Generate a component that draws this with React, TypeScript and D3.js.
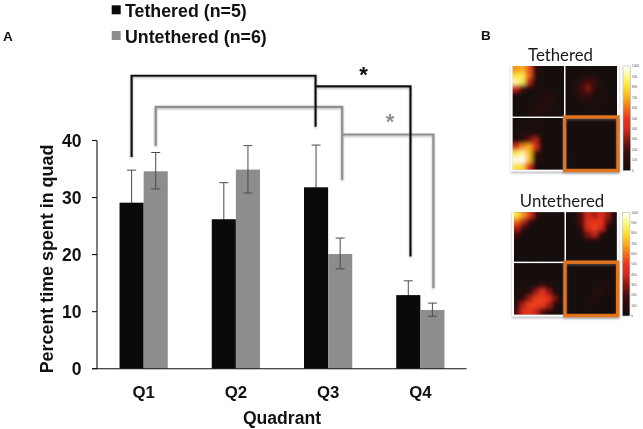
import * as d3 from 'd3'
import React from 'react'

const quadrants = ['Q1', 'Q2', 'Q3', 'Q4']
const groups = ['Tethered (n=5)', 'Untethered (n=6)']
const yTicks = [0, 10, 20, 30, 40]

const tetheredMean = [29.1, 26.2, 31.8, 12.9]
const tetheredHigh = [34.8, 32.6, 39.2, 15.4]
const tetheredLow = [23.4, 19.8, 24.4, 10.4]
const untetheredMean = [34.6, 34.9, 20.1, 10.3]
const untetheredHigh = [37.9, 39.1, 22.9, 11.5]
const untetheredLow = [31.5, 30.8, 17.5, 9.2]

// significance brackets, read in axis units: [left quadrant, right quadrant, level, end of left leg, end of right leg]
const blackUpperBracket = ['Q1', 'Q3', 51.35, 37.1, 42.4]
const blackLowerBracket = ['Q3', 'Q4', 49.5, 49.5, 19.65]
const grayUpperBracket = ['Q1', 'Q3', 45.9, 39.1, 33.1]
const grayLowerBracket = ['Q3', 'Q4', 41.05, 41.05, 14.15]

// heatmap panels, 8 x 8 cells
const tetheredTL = [
  [660, 700, 560, 140, 60, 40, 40, 30],
  [800, 840, 580, 110, 50, 40, 40, 30],
  [920, 840, 360, 70, 50, 40, 40, 30],
  [400, 210, 70, 50, 50, 50, 40, 40],
  [70, 50, 40, 40, 60, 70, 60, 40],
  [40, 30, 40, 60, 90, 100, 70, 40],
  [30, 30, 50, 80, 100, 90, 60, 30],
  [30, 40, 60, 80, 80, 60, 40, 30]
]
const tetheredTR = [
  [30, 30, 40, 40, 40, 30, 30, 30],
  [30, 30, 50, 70, 60, 40, 30, 30],
  [30, 50, 110, 200, 160, 50, 30, 30],
  [30, 60, 190, 280, 130, 50, 40, 30],
  [30, 50, 170, 190, 70, 50, 50, 30],
  [30, 40, 70, 80, 60, 60, 50, 30],
  [30, 30, 40, 50, 50, 60, 40, 30],
  [30, 30, 30, 40, 40, 40, 30, 30]
]
const tetheredBL = [
  [40, 40, 50, 60, 50, 40, 30, 30],
  [50, 50, 60, 60, 50, 40, 30, 30],
  [60, 70, 80, 90, 50, 40, 30, 30],
  [70, 110, 240, 370, 70, 40, 30, 30],
  [420, 640, 700, 470, 70, 40, 30, 30],
  [820, 920, 740, 190, 50, 40, 30, 30],
  [970, 1000, 740, 130, 50, 30, 30, 30],
  [820, 780, 450, 90, 40, 30, 30, 30]
]
const tetheredBR = [
  [30, 30, 30, 30, 30, 30, 30, 30],
  [30, 30, 30, 30, 30, 30, 30, 30],
  [30, 30, 30, 30, 40, 40, 30, 30],
  [30, 30, 30, 30, 40, 40, 30, 30],
  [30, 30, 30, 30, 40, 40, 30, 30],
  [30, 30, 30, 30, 30, 30, 30, 30],
  [40, 50, 40, 30, 30, 30, 30, 30],
  [30, 40, 30, 30, 30, 30, 30, 30]
]
const untetheredTL = [
  [820, 660, 460, 190, 40, 30, 30, 30],
  [580, 360, 120, 40, 30, 30, 30, 30],
  [350, 120, 40, 30, 30, 30, 30, 30],
  [180, 50, 30, 30, 30, 30, 30, 30],
  [80, 30, 30, 30, 30, 30, 30, 30],
  [40, 30, 30, 30, 30, 30, 30, 30],
  [30, 30, 30, 30, 30, 30, 30, 30],
  [30, 30, 30, 30, 30, 30, 30, 30]
]
const untetheredTR = [
  [30, 50, 230, 440, 330, 440, 330, 60],
  [30, 50, 230, 480, 500, 500, 240, 50],
  [30, 40, 120, 440, 520, 420, 90, 40],
  [30, 30, 60, 290, 380, 120, 40, 30],
  [30, 30, 40, 70, 80, 50, 30, 30],
  [30, 30, 30, 40, 40, 30, 30, 30],
  [30, 30, 30, 30, 40, 30, 30, 30],
  [30, 30, 30, 30, 30, 30, 30, 30]
]
const untetheredBL = [
  [30, 30, 30, 30, 30, 30, 30, 30],
  [30, 30, 30, 30, 30, 30, 30, 30],
  [40, 40, 40, 30, 30, 30, 30, 30],
  [50, 50, 60, 80, 170, 80, 40, 30],
  [60, 70, 100, 300, 510, 290, 60, 30],
  [80, 110, 330, 520, 520, 500, 250, 50],
  [120, 360, 520, 520, 510, 340, 80, 40],
  [220, 430, 480, 380, 220, 90, 50, 30]
]
const untetheredBR = [
  [30, 30, 30, 30, 30, 30, 30, 30],
  [30, 30, 30, 30, 30, 30, 30, 30],
  [30, 30, 30, 30, 30, 40, 50, 40],
  [30, 30, 30, 30, 40, 70, 60, 40],
  [30, 30, 30, 40, 70, 90, 50, 30],
  [30, 30, 40, 60, 80, 60, 40, 30],
  [30, 30, 40, 50, 50, 40, 30, 30],
  [30, 30, 30, 30, 30, 30, 30, 30]
]

const heatStops = [0, 100, 200, 300, 400, 500, 600, 700, 800, 900, 1000]
const heatColors = ['#110c0c', '#260c0c', '#430e0e', '#8a1812', '#d42a1c', '#ea331e', '#f4701a', '#fbae1e', '#fde231', '#fff98c', '#ffffff']
const barTicks = [1000, 900, 800, 700, 600, 500, 400, 300, 200, 100, 0]

const y = d3.scaleLinear().domain([0, 40]).range([368.7, 140.5])
const x = d3.scaleBand().domain(quadrants).range([97.5, 466.5]).paddingInner(0.477).paddingOuter(0.239)
const heat = d3.scaleLinear<string>().domain(heatStops).range(heatColors).clamp(true)

const barWidth = x.bandwidth() / 2
const blackX = (q: string) => x(q)! + barWidth / 2
const grayX = (q: string) => x(q)! + (barWidth * 3) / 2
const capHalf = 4.5
const sans = '"Liberation Sans", Arial, sans-serif'

const Panel = ({ cells, x0, y0, w, h, id }: any) => {
  const size = cells.length
  const cx = d3.scaleLinear().domain([0, size]).range([x0, x0 + w])
  const cy = d3.scaleLinear().domain([0, size]).range([y0, y0 + h])
  const bleed = 8
  return (
    <g clipPath={`url(#${id})`}>
      <clipPath id={id}>
        <rect x={x0} y={y0} width={w} height={h} />
      </clipPath>
      <rect x={x0} y={y0} width={w} height={h} fill={heat(30)} />
      <g filter='url(#heatBlur)'>
        {cells.map((row: number[], r: number) =>
          row.map((v, c) => {
            // edge cells run past the clip so the blur does not fade at the border
            const left = cx(c) - (c === 0 ? bleed : 0)
            const right = cx(c + 1) + (c === size - 1 ? bleed : 0)
            const top = cy(r) - (r === 0 ? bleed : 0)
            const bottom = cy(r + 1) + (r === size - 1 ? bleed : 0)
            return <rect key={`${r}-${c}`} x={left} y={top} width={right - left + 0.4} height={bottom - top + 0.4} fill={heat(v)} />
          })
        )}
      </g>
    </g>
  )
}

const HeatFigure = ({ title, titleX, titleY, panels, left, mid, right, top, middle, bottom, barX, barTop, barBottom, id }: any) => {
  const barY = d3.scaleLinear().domain([0, 1000]).range([barBottom, barTop])
  return (
    <g>
      <text x={titleX} y={titleY} textAnchor='middle' fontFamily='Lato, "Open Sans", sans-serif' fontSize={16.8} fill='#1a1a1a'>
        {title}
      </text>
      <rect x={left - 2} y={top - 2} width={right - left + 4} height={bottom - top + 4} fill='#fff' filter='url(#softShadow)' />
      <Panel id={`${id}a`} cells={panels[0]} x0={left} y0={top} w={mid - left - 0.8} h={middle - top - 0.8} />
      <Panel id={`${id}b`} cells={panels[1]} x0={mid + 0.8} y0={top} w={right - mid - 0.8} h={middle - top - 0.8} />
      <Panel id={`${id}c`} cells={panels[2]} x0={left} y0={middle + 0.8} w={mid - left - 0.8} h={bottom - middle - 0.8} />
      <Panel id={`${id}d`} cells={panels[3]} x0={mid + 0.8} y0={middle + 0.8} w={right - mid - 0.8} h={bottom - middle - 0.8} />
      <rect x={mid - 0.2} y={middle - 0.2} width={right - mid + 1.2} height={bottom - middle + 1.2} fill='none' stroke='#e2741a' strokeWidth={3.4} filter='url(#softShadow)' />
      <rect x={barX} y={barTop} width={7.6} height={barBottom - barTop} fill='url(#heatBar)' stroke='#bbb' strokeWidth={0.6} />
      {barTicks.map((t) => (
        <text key={t} x={barX + 9} y={barY(t) + 1.2} fontFamily={sans} fontSize={3.2} fill='#555'>
          {t}
        </text>
      ))}
    </g>
  )
}

const bracketPath = (b: any[], offset: (q: string) => number, nudgeLeft = 0, nudgeRight = 0) =>
  d3.line()([
    [offset(b[0]) + nudgeLeft, y(b[3])],
    [offset(b[0]) + nudgeLeft, y(b[2])],
    [offset(b[1]) + nudgeRight, y(b[2])],
    [offset(b[1]) + nudgeRight, y(b[4])]
  ] as [number, number][])!

const ErrorBars = ({ pos, high, low }: any) => (
  <g stroke='#4a4a4a' strokeWidth={1} fill='none'>
    {quadrants.map((q, i) => (
      <g key={q}>
        <line x1={pos(q)} x2={pos(q)} y1={y(high[i])} y2={y(low[i])} />
        <line x1={pos(q) - capHalf} x2={pos(q) + capHalf} y1={y(high[i])} y2={y(high[i])} />
        <line x1={pos(q) - capHalf} x2={pos(q) + capHalf} y1={y(low[i])} y2={y(low[i])} />
      </g>
    ))}
  </g>
)

const App = () => {
  return (
    <svg width={643} height={429} style={{ position: 'absolute', left: 0, top: 0, background: '#fff' }}>
      <defs>
        <filter id='heatBlur' x='-20%' y='-20%' width='140%' height='140%'>
          <feGaussianBlur stdDeviation={2.3} />
        </filter>
        <filter id='softShadow' x='-10%' y='-10%' width='120%' height='125%'>
          <feDropShadow dx={0} dy={1.5} stdDeviation={1} floodColor='#777' floodOpacity={0.55} />
        </filter>
        <filter id='lineShadow' x='-5%' y='-5%' width='110%' height='110%'>
          <feDropShadow dx={0} dy={1.2} stdDeviation={0.8} floodColor='#666' floodOpacity={0.5} />
        </filter>
        <linearGradient id='heatBar' x1='0' y1='1' x2='0' y2='0'>
          {heatStops.map((s, i) => (
            <stop key={s} offset={s / 1000} stopColor={heatColors[i]} />
          ))}
        </linearGradient>
      </defs>

      <g style={{ filter: 'blur(0.3px)' }}>
        {/* legend and panel letters */}
        <rect x={111.7} y={5.3} width={9} height={9} fill='#0a0a0a' />
        <text x={125} y={17.3} fontFamily={sans} fontWeight='bold' fontSize={17.8} fill='#111'>{groups[0]}</text>
        <rect x={111.7} y={31} width={9} height={9} fill='#8c8e8d' />
        <text x={125} y={43} fontFamily={sans} fontWeight='bold' fontSize={17.8} fill='#111'>{groups[1]}</text>
        <text x={3} y={40.5} fontFamily={sans} fontWeight='bold' fontSize={13.5} fill='#111'>A</text>
        <text x={481} y={40} fontFamily={sans} fontWeight='bold' fontSize={13.5} fill='#111'>B</text>

        {/* black error bars go under the bars, only the top half shows */}
        <ErrorBars pos={blackX} high={tetheredHigh} low={tetheredLow} />
        {quadrants.map((q, i) => (
          <g key={q}>
            <rect x={x(q)} y={y(tetheredMean[i])} width={barWidth} height={y(0) - y(tetheredMean[i])} fill='#0a0a0a' />
            <rect x={x(q)! + barWidth} y={y(untetheredMean[i])} width={barWidth} height={y(0) - y(untetheredMean[i])} fill='#8c8e8d' />
          </g>
        ))}
        <ErrorBars pos={grayX} high={untetheredHigh} low={untetheredLow} />

        {/* axes */}
        <g stroke='#111' strokeWidth={1.1} fill='none'>
          <line x1={97} x2={97} y1={y(40)} y2={y(0)} />
          <line x1={92} x2={466.5} y1={y(0)} y2={y(0)} />
          {yTicks.map((t) => (
            <line key={t} x1={92} x2={97} y1={y(t)} y2={y(t)} />
          ))}
        </g>
        {yTicks.map((t) => (
          <text key={t} x={81.5} y={y(t) + 6.2} textAnchor='end' fontFamily={sans} fontWeight='bold' fontSize={17.5} fill='#111'>
            {t}
          </text>
        ))}
        {quadrants.map((q) => (
          <text key={q} x={x(q)! + barWidth} y={397.5} textAnchor='middle' fontFamily={sans} fontWeight='bold' fontSize={16.8} fill='#111'>
            {q}
          </text>
        ))}
        <text x={282} y={424} textAnchor='middle' fontFamily={sans} fontWeight='bold' fontSize={17.6} fill='#111'>Quadrant</text>
        <text transform='translate(53,259) rotate(-90)' textAnchor='middle' fontFamily={sans} fontWeight='bold' fontSize={17.9} fill='#111'>
          Percent time spent in quad
        </text>

        {/* significance brackets */}
        <g fill='none' filter='url(#lineShadow)'>
          <path d={bracketPath(grayUpperBracket, grayX, 0, 2)} stroke='#8f9190' strokeWidth={2.2} />
          <path d={bracketPath(grayLowerBracket, grayX, 2, 1)} stroke='#8f9190' strokeWidth={2.2} />
          <path d={bracketPath(blackUpperBracket, blackX, 0, -0.5)} stroke='#0a0a0a' strokeWidth={2.2} />
          <path d={bracketPath(blackLowerBracket, blackX, 0, 2.2)} stroke='#0a0a0a' strokeWidth={2.2} />
        </g>
        <text x={363.5} y={82} textAnchor='middle' fontFamily={sans} fontWeight='bold' fontSize={22} fill='#0a0a0a'>*</text>
        <text x={390} y={129} textAnchor='middle' fontFamily={sans} fontWeight='bold' fontSize={22} fill='#8f9190'>*</text>

        <HeatFigure
          id='teth' title='Tethered' titleX={560.5} titleY={60.5}
          panels={[tetheredTL, tetheredTR, tetheredBL, tetheredBR]}
          left={512.7} mid={564.8} right={617} top={66} middle={117.2} bottom={169.5}
          barX={623} barTop={66} barBottom={170.7}
        />
        <HeatFigure
          id='unteth' title='Untethered' titleX={562} titleY={206.7}
          panels={[untetheredTL, untetheredTR, untetheredBL, untetheredBR]}
          left={514} mid={565.2} right={616.7} top={212.3} middle={262.4} bottom={314.5}
          barX={622.3} barTop={212.3} barBottom={316}
        />
      </g>
    </svg>
  )
}

export default App
